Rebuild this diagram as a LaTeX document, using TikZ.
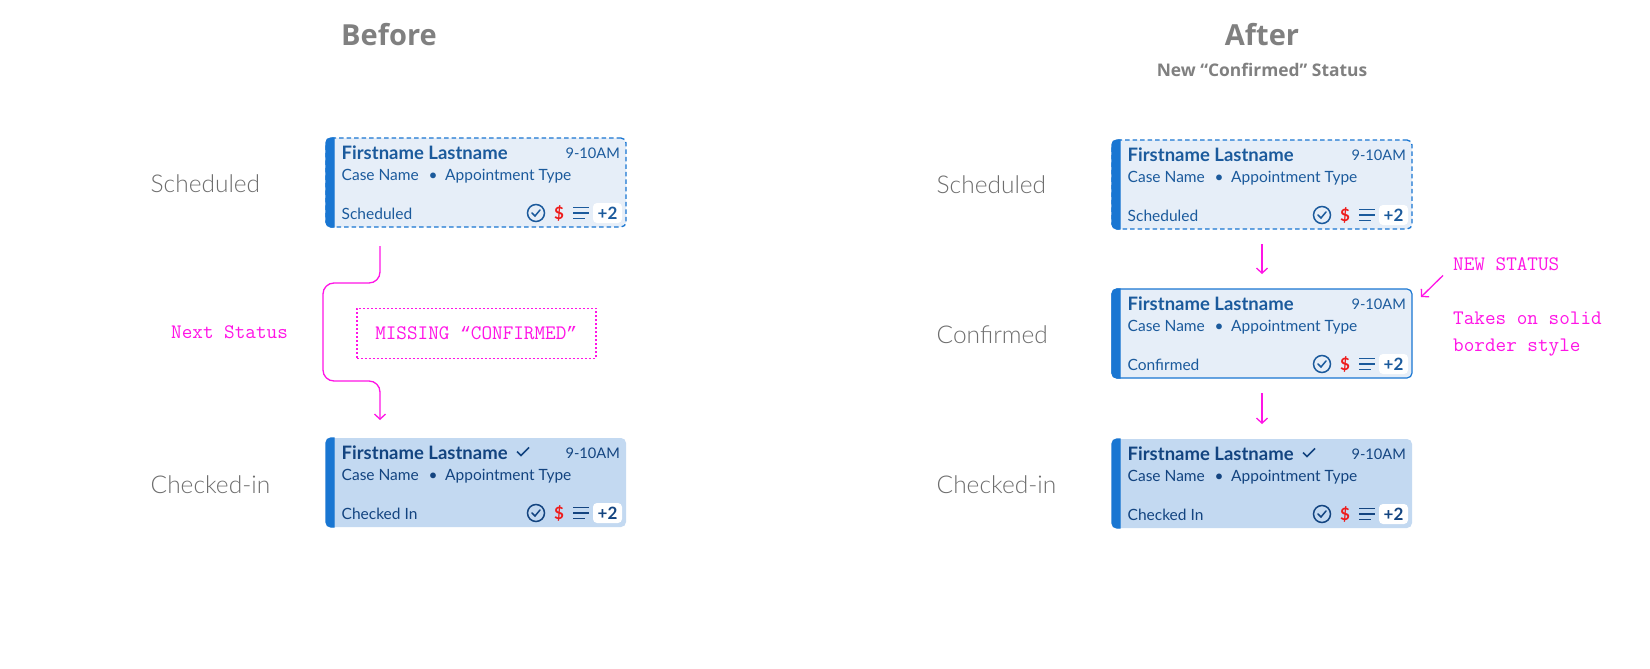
\documentclass[tikz,border=0pt]{standalone}
\usepackage{fontspec}
\usepackage{xcolor}
\usepackage{tikz}
\usetikzlibrary{arrows.meta, positioning, calc}
\setmainfont{Lato}
\newfontfamily\headfont{Open Sans}
\newfontfamily\labelfont{Lato Light}
\newfontfamily\quotefont{Liberation Mono}
\definecolor{barblue}{HTML}{1976D2}
\definecolor{palefill}{HTML}{E6EEF8}
\definecolor{deepfill}{HTML}{C3D9F1}
\definecolor{inkblue}{HTML}{1B5A9C}
\definecolor{inkdeep}{HTML}{134480}
\definecolor{notepink}{HTML}{FF14E6}
\definecolor{labelgrey}{HTML}{6E6E6E}
\definecolor{headgrey}{HTML}{808080}
\definecolor{moneyred}{HTML}{EE1C1C}
% one appointment card: name, style and place, status text, ink colour
\newcommand{\statuscard}[4]{
  \node[#2] (#1) {};
  \filldraw[barblue, line width=1.4pt] ([xshift=8pt]#1.north west) [rounded corners=5pt] -- (#1.north west) -- (#1.south west) [sharp corners] -- ([xshift=8pt]#1.south west) -- cycle;
  \node[cardname, text=#4, anchor=base west] (#1-name) at ([shift={(15.5,21)}]#1.north west) {Firstname Lastname};
  \node[cardtext, text=#4, anchor=base east, font=\fontsize{14.6}{14.6}\selectfont] (#1-time) at ([shift={(-6,20)}]#1.north east) {9-10AM};
  \node[cardtext, text=#4, anchor=base west] (#1-case) at ([shift={(15.5,42)}]#1.north west) {Case Name};
  \node[cardtext, text=#4, anchor=base] (#1-dot) at ([shift={(107,42)}]#1.north west) {\textbullet};
  \node[cardtext, text=#4, anchor=base west] (#1-type) at ([shift={(119,42)}]#1.north west) {Appointment Type};
  \node[cardtext, text=#4, anchor=base west] (#1-status) at ([shift={(15.5,81)}]#1.north west) {#3};
  \node[circle, draw=#4, line width=1.5pt, inner sep=0pt, minimum size=17pt] (#1-icon) at ([shift={(210,75)}]#1.north west) {};
  \draw[#4, line width=1.5pt, line cap=round] ([shift={(-4,0)}]#1-icon.center) -- ++(3,3) -- ++(5,-6);
  \node[cardtext, text=moneyred, font=\fontsize{17}{17}\selectfont\bfseries] (#1-money) at ([shift={(233,75)}]#1.north west) {\$};
  \draw[#4, line width=1.6pt] ([shift={(247,69.5)}]#1.north west) -- ++(16,0) ([shift={(247,75)}]#1.north west) -- ++(16,0) ([shift={(247,80.5)}]#1.north west) -- ++(12,0);
  \node[fill=white, rounded corners=4pt, text=#4, font=\fontsize{17}{17}\selectfont\bfseries, minimum width=29pt, minimum height=20pt, inner sep=0pt] (#1-more) at ([shift={(281.5,75)}]#1.north west) {+2};
}
% small tick after the name on a checked-in card
\newcommand{\cardtick}[1]{
  \draw[inkdeep, line width=1.7pt] ([shift={(191,13.5)}]#1.north west) -- ++(4,4) -- ++(8,-8);
}
\begin{document}
\begin{tikzpicture}[
    x=1pt, y=-1pt,
    cardbase/.style={rectangle, rounded corners=5pt, minimum width=300pt, minimum height=89pt, inner sep=0pt, outer sep=0pt, anchor=north west},
    cardsched/.style={cardbase, fill=palefill, draw=barblue, line width=1.3pt, dash pattern=on 4.5pt off 3pt},
    cardconf/.style={cardbase, fill=palefill, draw=barblue, line width=1.2pt},
    cardcheck/.style={cardbase, fill=deepfill},
    cardname/.style={inner sep=0pt, font=\fontsize{18.5}{18.5}\selectfont\bfseries},
    cardtext/.style={inner sep=0pt, font=\fontsize{15.5}{15.5}\selectfont},
    rowlabel/.style={anchor=west, inner sep=0pt, text=labelgrey, font=\labelfont\fontsize{24.5}{24.5}\selectfont},
    heading/.style={inner sep=0pt, text=headgrey, font=\headfont\fontsize{29}{29}\selectfont\bfseries},
    note/.style={inner sep=0pt, text=notepink, font=\ttfamily\fontsize{20.6}{27}\selectfont},
    arrow/.style={notepink, line width=1.3pt, -{Straight Barb[length=5pt, width=11pt]}}
]
\useasboundingbox (0,0) rectangle (1650,669);
\fill[white] (0,0) rectangle (1650,669);

\node[heading] (before) at (389,35) {Before};
\node[heading] (after)  at (1262,35) {After};
\node[heading, font=\headfont\fontsize{17.4}{17.4}\selectfont\bfseries, below=17pt of after] (subtitle) {New “Confirmed” Status};

\statuscard{schedA}{cardsched, at={(326,138)}}{Scheduled}{inkblue}
\statuscard{checkA}{cardcheck, below=211pt of schedA.south west, anchor=north west}{Checked In}{inkdeep}
\cardtick{checkA}

\statuscard{schedB}{cardsched, at={(1112,140)}}{Scheduled}{inkblue}
\statuscard{confB}{cardconf, below=60pt of schedB.south west, anchor=north west}{Confirmed}{inkblue}
\statuscard{checkB}{cardcheck, below=61pt of confB.south west, anchor=north west}{Checked In}{inkdeep}
\cardtick{checkB}

\node[rowlabel] (labelA1) at (150.5,183.5) {Scheduled};
\node[rowlabel] (labelA2) at (150.5,484.5) {Checked-in};
\node[rowlabel] (labelB1) at (936.5,185) {Scheduled};
\node[rowlabel] (labelB2) at (936.5,335) {Confirmed};
\node[rowlabel] (labelB3) at (936.5,485) {Checked-in};

\node[note, anchor=base west] (nextnote) at (171,338) {Next Status};
\node[note, draw=notepink, dash pattern=on 2pt off 2pt, line width=1.5pt, minimum width=239pt, minimum height=50pt, anchor=north west] (missing) at (356,307.5) {MISSING {\quotefont\fontsize{18}{18}\selectfont “}CONFIRMED{\quotefont\fontsize{18}{18}\selectfont ”}};
\node[note, anchor=base west] (newnote) at (1453,270) {NEW STATUS};
\node[note, anchor=north west, align=left] (solidnote) at (1453,312) {Takes on solid\\border style};

\coordinate (startA) at ([shift={(54,19)}]schedA.south west);
\coordinate (endA) at ([shift={(54,-18)}]checkA.north west);
\draw[arrow, rounded corners=11pt] (startA) |- (323,283) |- (380,381) -- (endA);
\draw[arrow, shorten <=15pt, shorten >=15pt] (schedB) -- (confB);
\draw[arrow, shorten <=15pt, shorten >=15pt] (confB) -- (checkB);
\draw[arrow] ([shift={(-10,5)}]newnote.south west) -- ([shift={(9,8)}]confB.north east);
\end{tikzpicture}
\end{document}
